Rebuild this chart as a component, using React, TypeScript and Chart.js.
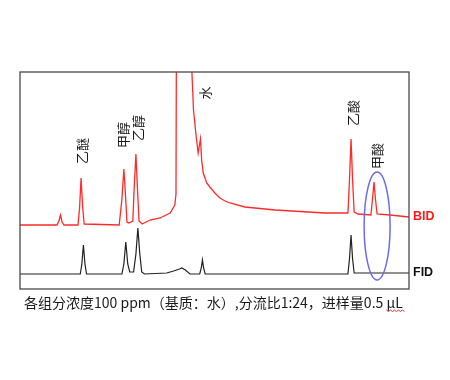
import React, { useEffect, useRef } from "react";
import { Chart, registerables } from "chart.js";

Chart.register(...registerables);

// Retention time (min) and detector signal (a.u.)
const bidTimes = [0, 0.95, 1.0, 1.04, 1.08, 1.13, 1.49, 1.53, 1.57, 1.61, 1.65, 2.55, 2.62, 2.67, 2.71, 2.75, 2.8, 2.9, 2.94, 2.98, 3.02, 3.06, 3.14, 3.34, 3.6, 3.86, 3.98, 4.01, 4.04, 4.4, 4.42, 4.46, 4.53, 4.58, 4.64, 4.67, 4.71, 4.8, 4.88, 5.01, 5.14, 5.27, 5.4, 5.78, 6.56, 7.84, 8.43, 8.47, 8.51, 8.55, 8.59, 8.69, 9.02, 9.06, 9.1, 9.14, 9.18, 9.51, 10.0];
const bidSignal = [64, 64, 68, 74, 67, 64, 64, 80, 111, 82, 65, 64, 90, 120, 95, 67, 66, 68, 105, 135, 100, 68, 65, 69, 71, 76, 84, 95, 520, 520, 216, 179, 152, 136, 150, 129, 116, 106, 102, 96, 91, 88, 86, 82, 79, 76, 76, 109, 150, 109, 77, 75, 74, 89, 107, 89, 75, 74, 72];

const fidTimes = [0, 1.55, 1.59, 1.63, 1.67, 1.71, 2.62, 2.67, 2.72, 2.77, 2.82, 2.92, 2.98, 3.03, 3.08, 3.13, 3.2, 3.77, 3.95, 4.1, 4.16, 4.25, 4.37, 4.62, 4.66, 4.69, 4.72, 4.76, 8.43, 8.47, 8.51, 8.55, 8.59, 10.0];
const fidSignal = [15, 15, 25, 44, 25, 15, 15, 25, 47, 25, 17, 17, 35, 61, 35, 17, 15, 16, 18, 20, 21, 19, 15, 15, 21, 29, 21, 15, 15, 30, 54, 30, 16, 16];

const seriesNames = ["BID", "FID"];
const seriesColors = ["#ff2a2a", "#222222"];

const peakNames = ["乙醚", "甲醇", "乙醇", "水", "乙酸", "甲酸"];
const peakLabelTimes = [1.59, 2.65, 3.03, 4.77, 8.55, 9.17];
const peakLabelSignals = [138, 154, 161, 196, 176, 133];

// highlighted region (formic acid on BID)
const highlightTime = 9.18;
const highlightSignal = 63;
const highlightHalfTime = 0.334;
const highlightHalfSignal = 54;

const caption = "各组分浓度100 ppm（基质：水）,分流比1:24，进样量0.5 μL";

const xMin = 0;
const xMax = 10;
const yMin = 0;
const yMax = 217;

const overlayPlugin = {
  id: "overlay",
  afterDatasetsDraw(chart: any) {
    const { ctx, chartArea: a, scales } = chart;
    const xs = scales.x;
    const ys = scales.y;
    ctx.save();
    // frame
    ctx.strokeStyle = "#4a4a4a";
    ctx.lineWidth = 1.3;
    ctx.strokeRect(a.left, a.top, a.right - a.left, a.bottom - a.top);

    // peak labels, rotated
    ctx.fillStyle = "#1a1a1a";
    ctx.font = '13px "Noto Sans CJK SC", sans-serif';
    ctx.textAlign = "center";
    ctx.textBaseline = "middle";
    peakNames.forEach((n, i) => {
      const px = xs.getPixelForValue(peakLabelTimes[i]);
      const py = ys.getPixelForValue(peakLabelSignals[i]);
      ctx.save();
      ctx.translate(px, py);
      ctx.rotate(-Math.PI / 2);
      ctx.fillText(n, 0, 0);
      ctx.restore();
    });

    // ellipse highlight
    const cx = xs.getPixelForValue(highlightTime);
    const cy = ys.getPixelForValue(highlightSignal);
    const rx = Math.abs(xs.getPixelForValue(highlightTime + highlightHalfTime) - cx);
    const ry = Math.abs(ys.getPixelForValue(highlightSignal + highlightHalfSignal) - cy);
    ctx.beginPath();
    ctx.ellipse(cx, cy, rx, ry, 0, 0, Math.PI * 2);
    ctx.strokeStyle = "#6b6bf0";
    ctx.lineWidth = 1.5;
    ctx.stroke();

    // series names at line ends
    ctx.font = 'bold 12.5px "Liberation Sans", Arial, sans-serif';
    ctx.textAlign = "left";
    const ends = [bidSignal[bidSignal.length - 1], fidSignal[fidSignal.length - 1]];
    seriesNames.forEach((n, i) => {
      ctx.fillStyle = seriesColors[i] === "#222222" ? "#111" : "#ff1a1a";
      ctx.fillText(n, a.right + 4, ys.getPixelForValue(ends[i]));
    });

    // caption
    ctx.fillStyle = "#1a1a1a";
    ctx.font = '14px "Noto Sans CJK SC", sans-serif';
    ctx.textAlign = "left";
    ctx.textBaseline = "middle";
    const cxs = a.left + 4;
    const cys = a.bottom + 14;
    ctx.fillText(caption, cxs, cys);
    // spell-check squiggle under the unit
    const full = ctx.measureText(caption).width;
    const unit = ctx.measureText("μL").width;
    const sx = cxs + full - unit;
    ctx.beginPath();
    ctx.strokeStyle = "#e03030";
    ctx.lineWidth = 1;
    for (let k = 0; k <= Math.ceil(unit / 2); k++) {
      const xx = sx + k * 2;
      const yy = cys + 7 + (k % 2 === 0 ? 0 : 1.5);
      if (k === 0) ctx.moveTo(xx, yy);
      else ctx.lineTo(xx, yy);
    }
    ctx.stroke();
    ctx.restore();
  },
};

export default function App() {
  const ref = useRef<HTMLCanvasElement | null>(null);
  useEffect(() => {
    if (!ref.current) return;
    const chart = new Chart(ref.current, {
      type: "line",
      data: {
        datasets: [
          {
            label: seriesNames[0],
            data: bidTimes.map((t, i) => ({ x: t, y: bidSignal[i] })),
            borderColor: seriesColors[0],
            borderWidth: 1.3,
            pointRadius: 0,
            tension: 0,
          },
          {
            label: seriesNames[1],
            data: fidTimes.map((t, i) => ({ x: t, y: fidSignal[i] })),
            borderColor: seriesColors[1],
            borderWidth: 1.2,
            pointRadius: 0,
            tension: 0,
          },
        ],
      },
      options: {
        animation: false,
        responsive: false,
        layout: { padding: { left: 12, top: 64, right: 33, bottom: 39 } },
        scales: {
          x: { type: "linear", min: xMin, max: xMax, display: false },
          y: { type: "linear", min: yMin, max: yMax, display: false },
        },
        plugins: { legend: { display: false }, tooltip: { enabled: false } },
      },
      plugins: [overlayPlugin],
    });
    return () => chart.destroy();
  }, []);
  return <canvas ref={ref} width={434} height={320} style={{ display: "block" }} />;
}
